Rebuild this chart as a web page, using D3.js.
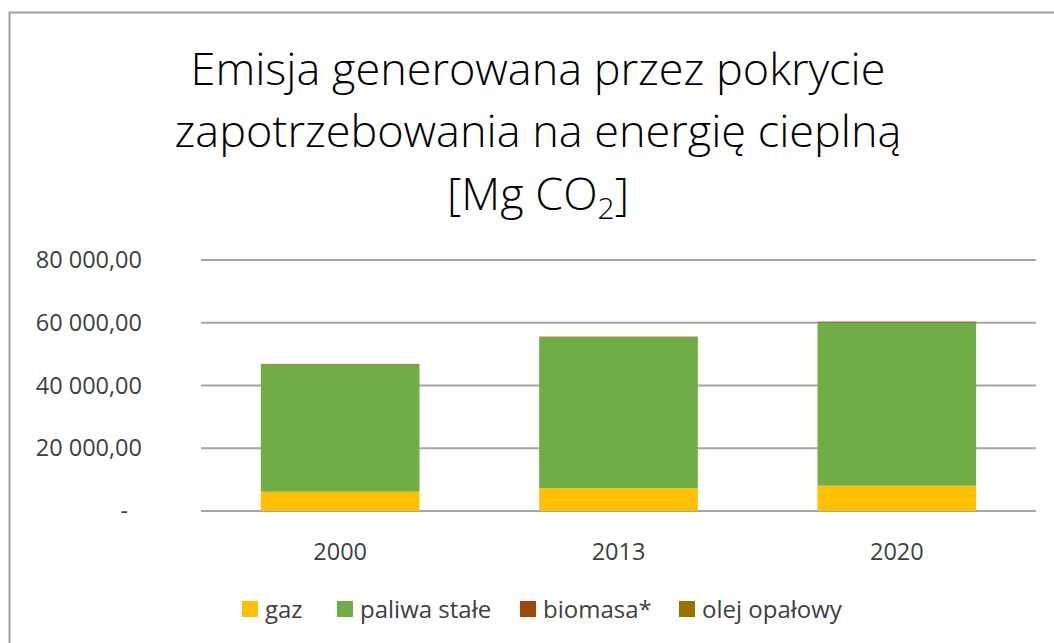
<!DOCTYPE html>
<html lang="pl">
<head>
    <meta charset="UTF-8">
    <title>Emisja CO2</title>
    <script src="https://d3js.org/d3.v7.min.js"></script>
    <style>
        body { margin: 0; background: #fff; }
        svg { font-family: "Open Sans", "Noto Sans", sans-serif; }
        .grid line { stroke: #a6a6a6; stroke-width: 2px; }
        .tick-label { fill: #404040; font-size: 23.5px; }
        .title { fill: #000; font-size: 45px; font-weight: 300; }
        .legend text { fill: #404040; font-size: 24px; }
    </style>
</head>
<body>
    <svg width="1054" height="643"></svg>

    <script>
        // dane
        const years = ["2000", "2013", "2020"];
        const seriesNames = ["gaz", "paliwa stałe", "biomasa*", "olej opałowy"];
        const gaz = [6150, 7230, 8060];
        const paliwaStale = [40450, 48080, 52030];
        const biomasa = [180, 170, 160];
        const olej = [120, 110, 100];
        const yTicks = [0, 20000, 40000, 60000, 80000];
        const colors = ["#FFC000", "#70AD47", "#9E480E", "#997300"];

        const svg = d3.select("svg");
        const W = 1054, H = 643;

        // ramka wykresu
        svg.append("rect")
            .attr("x", 9.5).attr("y", 12.5)
            .attr("width", W).attr("height", H)
            .attr("fill", "#fff")
            .attr("stroke", "#a0a0a0")
            .attr("stroke-width", 2);

        // tytul
        const title = svg.append("text")
            .attr("class", "title")
            .attr("text-anchor", "middle");
        title.append("tspan").attr("x", 538).attr("y", 85).text("Emisja generowana przez pokrycie");
        title.append("tspan").attr("x", 538).attr("y", 147).text("zapotrzebowania na energię cieplną");
        title.append("tspan").attr("x", 538).attr("y", 210).text("[Mg CO");
        title.append("tspan").attr("dy", 9).attr("font-size", "30px").text("2");
        title.append("tspan").attr("dy", -9).text("]");

        const rows = years.map((y, i) => ({
            year: y,
            "gaz": gaz[i],
            "paliwa stałe": paliwaStale[i],
            "biomasa*": biomasa[i],
            "olej opałowy": olej[i]
        }));

        const x = d3.scaleBand().domain(years).range([201, 1036]).paddingInner(0.43).paddingOuter(0.215);
        const y = d3.scaleLinear().domain([0, 80000]).range([511, 260]);

        // linie siatki
        svg.append("g").attr("class", "grid")
            .selectAll("line")
            .data(yTicks)
            .enter()
            .append("line")
            .attr("x1", 201).attr("x2", 1036)
            .attr("y1", d => y(d)).attr("y2", d => y(d));

        const fmt = d => d === 0 ? "-" : d3.format(",.2f")(d).replace(/,/g, " ").replace(".", ",");
        svg.append("g")
            .selectAll("text")
            .data(yTicks)
            .enter()
            .append("text")
            .attr("class", "tick-label")
            .attr("text-anchor", "end")
            .attr("x", d => d === 0 ? 128 : 142)
            .attr("y", d => y(d) + 8)
            .text(fmt);

        const stack = d3.stack().keys(seriesNames)(rows);

        svg.append("g")
            .selectAll("g")
            .data(stack)
            .enter()
            .append("g")
            .attr("fill", (d, i) => colors[i])
            .selectAll("rect")
            .data(d => d)
            .enter()
            .append("rect")
            .attr("x", d => x(d.data.year))
            .attr("width", x.bandwidth())
            .attr("y", d => y(d[1]))
            .attr("height", d => y(d[0]) - y(d[1]));

        // etykiety osi x
        svg.append("g")
            .selectAll("text")
            .data(years)
            .enter()
            .append("text")
            .attr("class", "tick-label")
            .attr("text-anchor", "middle")
            .attr("x", d => x(d) + x.bandwidth() / 2)
            .attr("y", 560)
            .text(d => d);

        // legenda
        const legX = [242, 337, 520, 679];
        const leg = svg.append("g").attr("class", "legend")
            .selectAll("g")
            .data(seriesNames)
            .enter()
            .append("g")
            .attr("transform", (d, i) => `translate(${legX[i]},601)`);
        leg.append("rect").attr("width", 16).attr("height", 16).attr("fill", (d, i) => colors[i]);
        leg.append("text").attr("x", 23).attr("y", 17).text(d => d);
    </script>
</body>
</html>
